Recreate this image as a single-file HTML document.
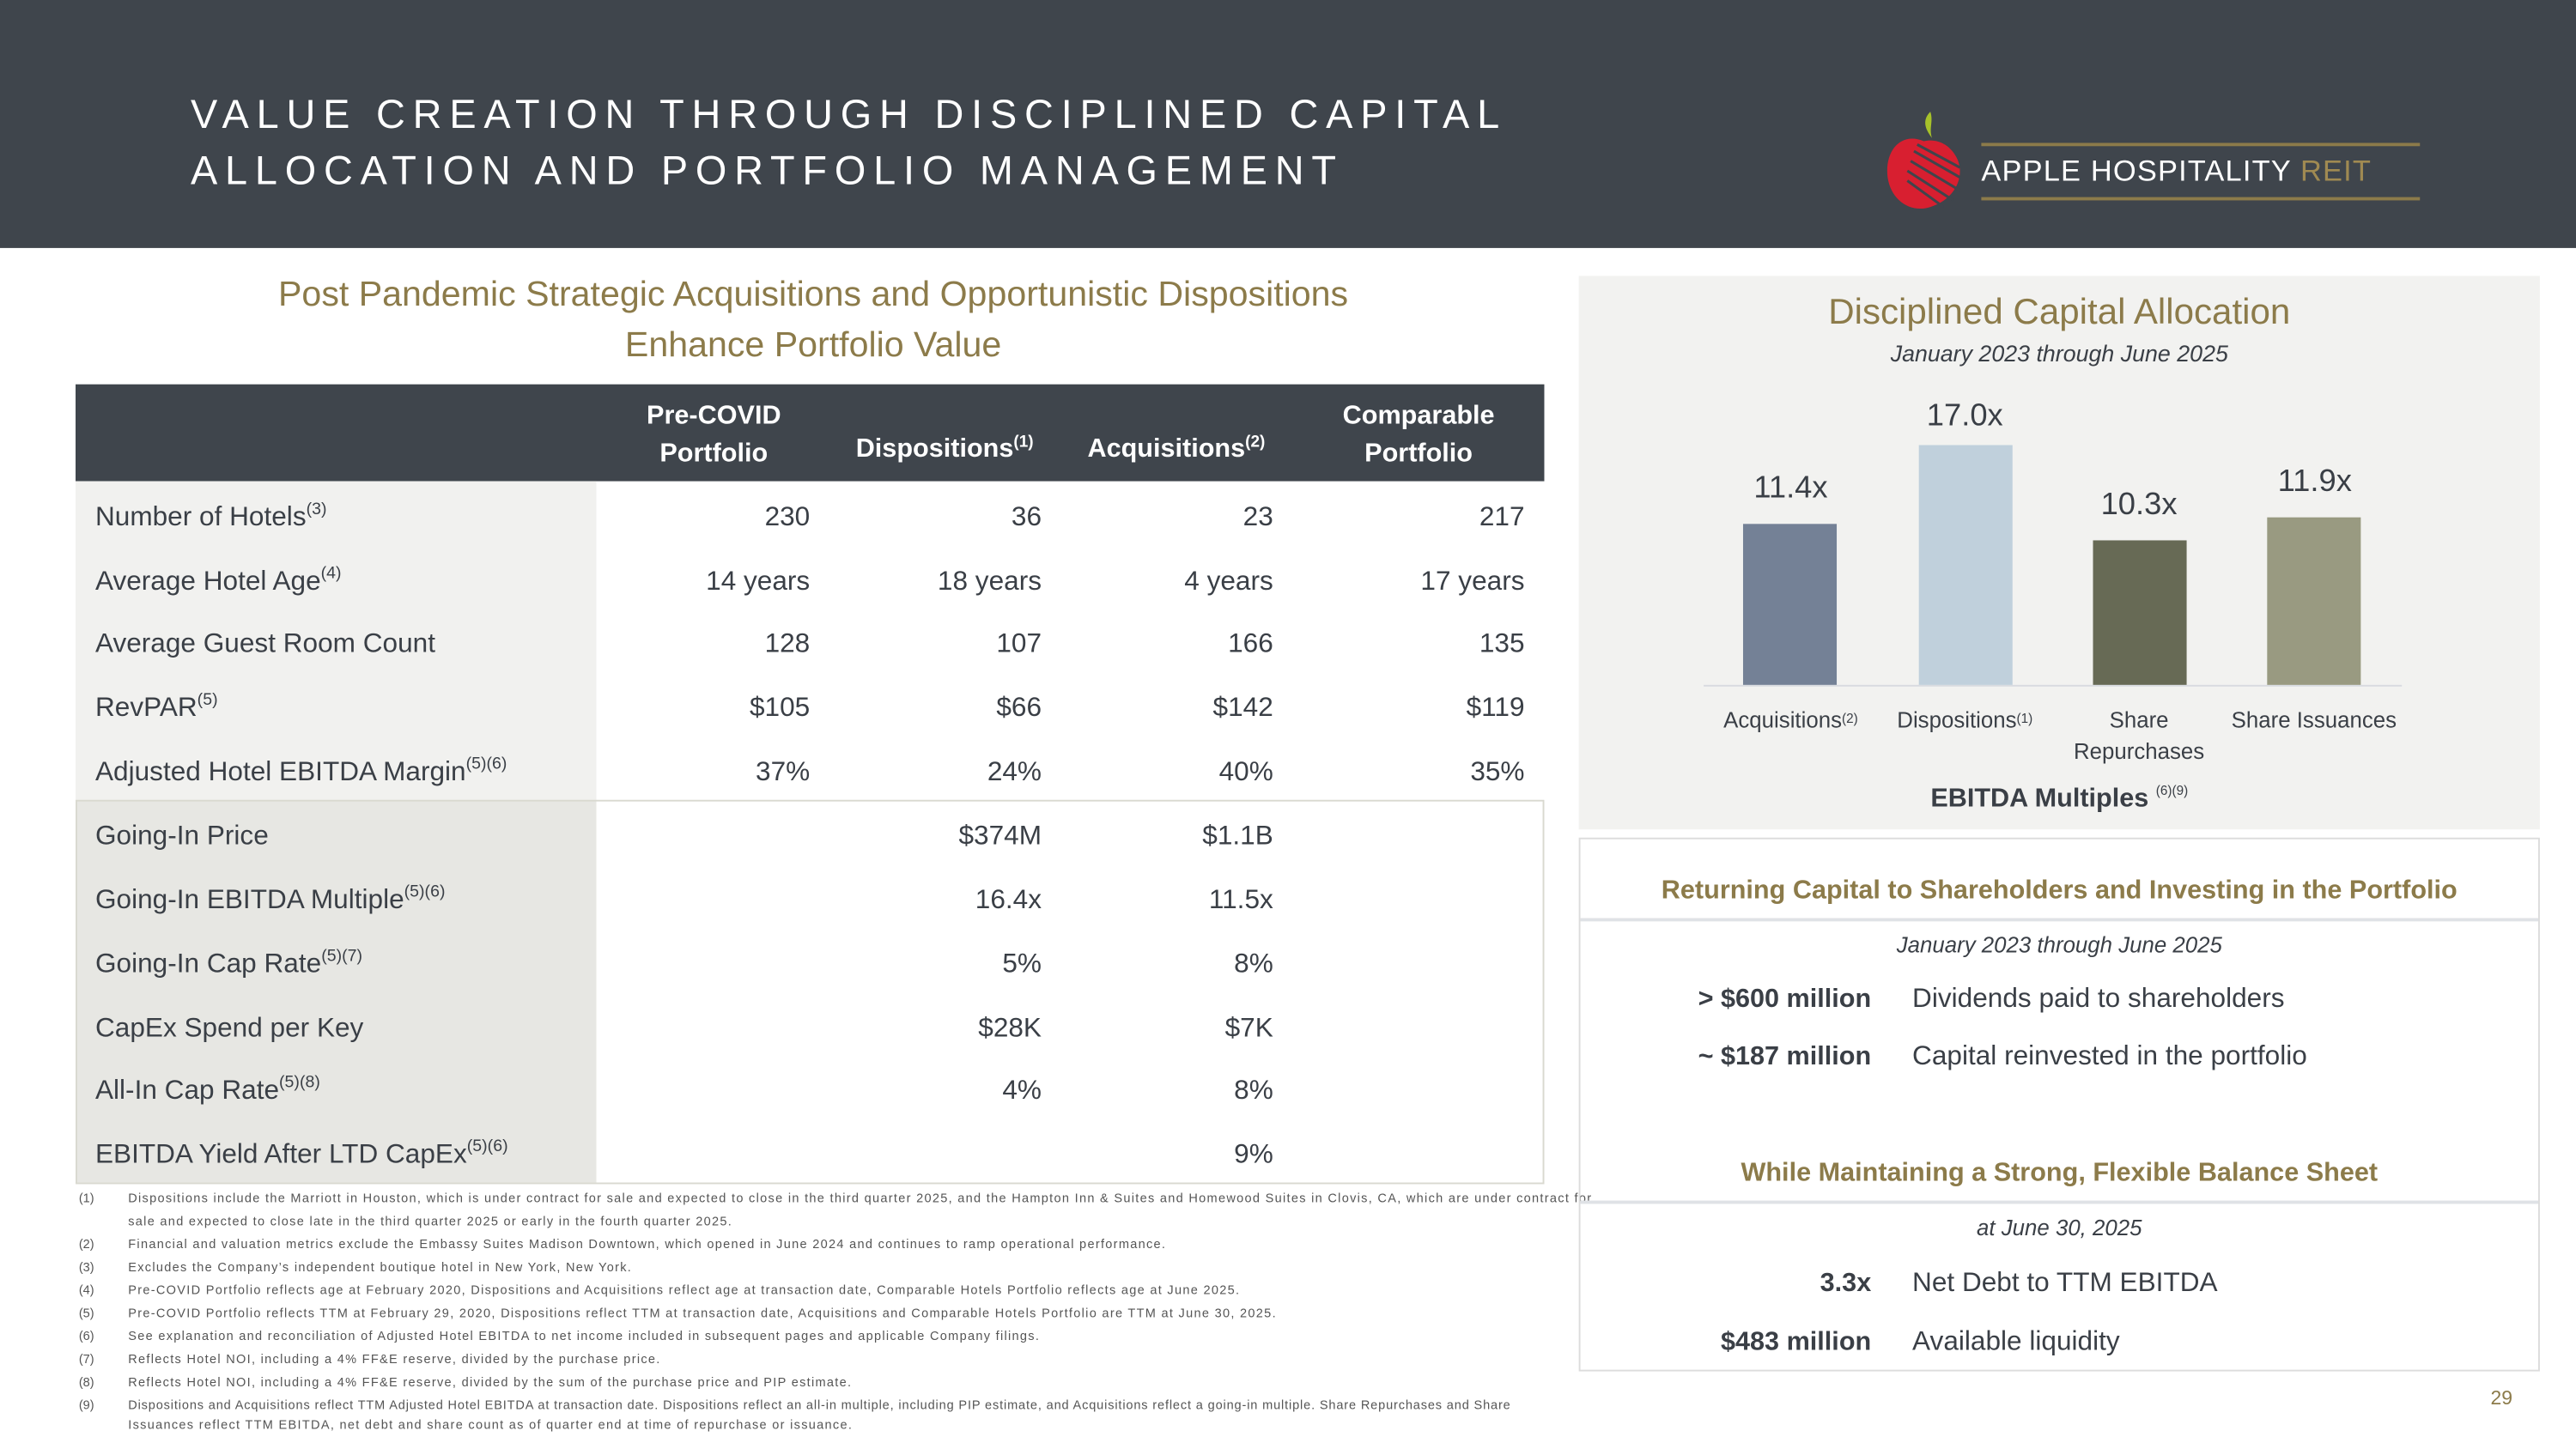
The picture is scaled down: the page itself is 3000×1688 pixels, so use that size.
<!DOCTYPE html>
<html><head><meta charset="utf-8">
<style>
html,body{margin:0;padding:0;background:#fff;}
body{width:3000px;height:1687px;overflow:hidden;position:relative;}
#s{position:absolute;left:0;top:0;width:1568px;height:882px;transform:scale(1.91327);transform-origin:0 0;font-family:"Liberation Sans",sans-serif;color:#3a3f46;}
.a{position:absolute;white-space:nowrap;}
.gold{color:#8c7b4a;}
.row{position:absolute;left:46px;width:894px;height:39px;font-size:16.5px;}
.row .l{position:absolute;left:12px;top:10px;}
.row .c{position:absolute;top:10px;text-align:right;}
sup{font-size:62%;vertical-align:top;position:relative;top:-1px;}
.fn{position:absolute;left:48px;font-size:7.6px;color:#555;line-height:14px;}
.fn b{font-weight:normal;position:absolute;left:0;}
.fn span{position:absolute;left:30px;white-space:nowrap;letter-spacing:0.68px;}
.cat{position:absolute;font-size:13.5px;text-align:center;line-height:19px;color:#3a3f46;}
.bv{position:absolute;font-size:19px;text-align:center;width:80px;}
</style></head><body><div id="s">
<div class="a" style="left:0;top:0;width:1568px;height:151px;background:#3f454c;"></div>
<div class="a" style="left:116px;top:54px;font-size:24.5px;letter-spacing:4.6px;color:#fff;line-height:34px;">VALUE CREATION THROUGH DISCIPLINED CAPITAL<br>ALLOCATION AND PORTFOLIO MANAGEMENT</div>
<svg class="a" style="left:1145px;top:64px" width="56" height="68" viewBox="0 0 56 68">
<path d="M30 4 C24 10 28 16 31 20 C29 14 32 10 30 4Z" fill="#a7c22a"/>
<path d="M26 22 C12 16 2 28 4 44 C6 58 18 66 30 62 C44 58 52 44 46 32 C42 24 34 20 26 22Z" fill="#d81f30"/>
<g stroke="#3f454c" stroke-width="1.6" fill="none"><path d="M20 28 L48 44"/><path d="M18 34 L48 52"/><path d="M16 40 L44 58"/><path d="M16 46 L38 62"/><path d="M22 24 L48 38"/></g>
</svg>
<div class="a" style="left:1206px;top:87px;width:267px;height:1.5px;background:#8c7b4a;"></div>
<div class="a" style="left:1206px;top:120px;width:267px;height:1.5px;background:#8c7b4a;"></div>
<div class="a" style="left:1206px;top:94px;font-size:18px;color:#fff;letter-spacing:0.6px;">APPLE HOSPITALITY <span style="color:#a08a52">REIT</span></div>

<div class="a gold" style="left:46px;width:898px;top:164px;text-align:center;font-size:21.5px;line-height:31px;">Post Pandemic Strategic Acquisitions and Opportunistic Dispositions<br>Enhance Portfolio Value</div>

<div class="a" style="left:46px;top:234px;width:894px;height:59px;background:#3f454c;"></div>
<div class="a" style="left:363px;width:143px;top:242px;text-align:center;color:#fff;font-weight:bold;font-size:16px;line-height:23px;">Pre-COVID<br>Portfolio</div>
<div class="a" style="left:505px;width:140px;top:265px;text-align:center;color:#fff;font-weight:bold;font-size:16px;">Dispositions<sup>(1)</sup></div>
<div class="a" style="left:645px;width:142px;top:265px;text-align:center;color:#fff;font-weight:bold;font-size:16px;">Acquisitions<sup>(2)</sup></div>
<div class="a" style="left:790px;width:147px;top:242px;text-align:center;color:#fff;font-weight:bold;font-size:16px;line-height:23px;">Comparable<br>Portfolio</div>

<div class="a" style="left:46px;top:293px;width:317px;height:194px;background:#f1f1ef;"></div>
<div class="a" style="left:46px;top:487px;width:317px;height:233px;background:#e7e7e3;"></div>
<div class="a" style="left:46px;top:487px;width:892px;height:232px;border:1px solid #d9d9d0;"></div>

<div class="row" style="top:296px"><span class="l">Number of Hotels<sup>(3)</sup></span><span class="c" style="right:447px">230</span><span class="c" style="right:306px">36</span><span class="c" style="right:165px">23</span><span class="c" style="right:12px">217</span></div>
<div class="row" style="top:335px"><span class="l">Average Hotel Age<sup>(4)</sup></span><span class="c" style="right:447px">14 years</span><span class="c" style="right:306px">18 years</span><span class="c" style="right:165px">4 years</span><span class="c" style="right:12px">17 years</span></div>
<div class="row" style="top:373px"><span class="l">Average Guest Room Count</span><span class="c" style="right:447px">128</span><span class="c" style="right:306px">107</span><span class="c" style="right:165px">166</span><span class="c" style="right:12px">135</span></div>
<div class="row" style="top:412px"><span class="l">RevPAR<sup>(5)</sup></span><span class="c" style="right:447px">$105</span><span class="c" style="right:306px">$66</span><span class="c" style="right:165px">$142</span><span class="c" style="right:12px">$119</span></div>
<div class="row" style="top:451px"><span class="l">Adjusted Hotel EBITDA Margin<sup>(5)(6)</sup></span><span class="c" style="right:447px">37%</span><span class="c" style="right:306px">24%</span><span class="c" style="right:165px">40%</span><span class="c" style="right:12px">35%</span></div>
<div class="row" style="top:490px"><span class="l">Going-In Price</span><span class="c" style="right:306px">$374M</span><span class="c" style="right:165px">$1.1B</span></div>
<div class="row" style="top:529px"><span class="l">Going-In EBITDA Multiple<sup>(5)(6)</sup></span><span class="c" style="right:306px">16.4x</span><span class="c" style="right:165px">11.5x</span></div>
<div class="row" style="top:568px"><span class="l">Going-In Cap Rate<sup>(5)(7)</sup></span><span class="c" style="right:306px">5%</span><span class="c" style="right:165px">8%</span></div>
<div class="row" style="top:607px"><span class="l">CapEx Spend per Key</span><span class="c" style="right:306px">$28K</span><span class="c" style="right:165px">$7K</span></div>
<div class="row" style="top:645px"><span class="l">All-In Cap Rate<sup>(5)(8)</sup></span><span class="c" style="right:306px">4%</span><span class="c" style="right:165px">8%</span></div>
<div class="row" style="top:684px"><span class="l">EBITDA Yield After LTD CapEx<sup>(5)(6)</sup></span><span class="c" style="right:165px">9%</span></div>

<div class="fn" style="top:723px;height:28px"><b>(1)</b><span>Dispositions include the Marriott in Houston, which is under contract for sale and expected to close in the third quarter 2025, and the Hampton Inn &amp; Suites and Homewood Suites in Clovis, CA, which are under contract for</span></div>
<div class="fn" style="top:737px"><span>sale and expected to close late in the third quarter 2025 or early in the fourth quarter 2025.</span></div>
<div class="fn" style="top:751px"><b>(2)</b><span>Financial and valuation metrics exclude the Embassy Suites Madison Downtown, which opened in June 2024 and continues to ramp operational performance.</span></div>
<div class="fn" style="top:765px"><b>(3)</b><span>Excludes the Company’s independent boutique hotel in New York, New York.</span></div>
<div class="fn" style="top:779px"><b>(4)</b><span>Pre-COVID Portfolio reflects age at February 2020, Dispositions and Acquisitions reflect age at transaction date, Comparable Hotels Portfolio reflects age at June 2025.</span></div>
<div class="fn" style="top:793px"><b>(5)</b><span>Pre-COVID Portfolio reflects TTM at February 29, 2020, Dispositions reflect TTM at transaction date, Acquisitions and Comparable Hotels Portfolio are TTM at June 30, 2025.</span></div>
<div class="fn" style="top:807px"><b>(6)</b><span>See explanation and reconciliation of Adjusted Hotel EBITDA to net income included in subsequent pages and applicable Company filings.</span></div>
<div class="fn" style="top:821px"><b>(7)</b><span>Reflects Hotel NOI, including a 4% FF&amp;E reserve, divided by the purchase price.</span></div>
<div class="fn" style="top:835px"><b>(8)</b><span>Reflects Hotel NOI, including a 4% FF&amp;E reserve, divided by the sum of the purchase price and PIP estimate.</span></div>
<div class="fn" style="top:849px"><b>(9)</b><span style="letter-spacing:0.45px">Dispositions and Acquisitions reflect TTM Adjusted Hotel EBITDA at transaction date. Dispositions reflect an all-in multiple, including PIP estimate, and Acquisitions reflect a going-in multiple. Share Repurchases and Share</span></div>
<div class="fn" style="top:861px"><span>Issuances reflect TTM EBITDA, net debt and share count as of quarter end at time of repurchase or issuance.</span></div>

<!-- right panel -->
<div class="a" style="left:961px;top:168px;width:585px;height:337px;background:#f2f2f0;"></div>
<div class="a gold" style="left:961px;width:585px;top:177px;text-align:center;font-size:22px;">Disciplined Capital Allocation</div>
<div class="a" style="left:961px;width:585px;top:207px;text-align:center;font-size:14px;font-style:italic;">January 2023 through June 2025</div>
<div class="a" style="left:1037px;top:417px;width:425px;height:1px;background:#d8dbe0;"></div>
<div class="a" style="left:1061px;top:319px;width:57px;height:98px;background:#748196;"></div>
<div class="a" style="left:1168px;top:271px;width:57px;height:146px;background:#c0d0dc;"></div>
<div class="a" style="left:1274px;top:329px;width:57px;height:88px;background:#676a55;"></div>
<div class="a" style="left:1380px;top:315px;width:57px;height:102px;background:#999a81;"></div>
<div class="bv" style="left:1050px;top:287px">11.4x</div>
<div class="bv" style="left:1156px;top:243px">17.0x</div>
<div class="bv" style="left:1262px;top:297px">10.3x</div>
<div class="bv" style="left:1369px;top:283px">11.9x</div>
<div class="cat" style="left:1037px;width:106px;top:429px">Acquisitions<sup style="font-size:8px">(2)</sup></div>
<div class="cat" style="left:1143px;width:106px;top:429px">Dispositions<sup style="font-size:8px">(1)</sup></div>
<div class="cat" style="left:1249px;width:106px;top:429px">Share<br>Repurchases</div>
<div class="cat" style="left:1355px;width:107px;top:429px">Share Issuances</div>
<div class="a" style="left:961px;width:585px;top:478px;text-align:center;font-size:16px;font-weight:bold;">EBITDA Multiples <sup style="font-size:8px;font-weight:normal">(6)(9)</sup></div>

<div class="a" style="left:961px;top:510px;width:583px;height:323px;border:1px solid #dcdcdc;"></div>
<div class="a gold" style="left:961px;width:585px;top:534px;text-align:center;font-size:16px;font-weight:bold;">Returning Capital to Shareholders and Investing in the Portfolio</div>
<div class="a" style="left:962px;top:559px;width:583px;height:2px;background:#dfe2e6;"></div>
<div class="a" style="left:961px;width:585px;top:568px;text-align:center;font-size:13.5px;font-style:italic;">January 2023 through June 2025</div>
<div class="a" style="left:961px;width:178px;top:600px;text-align:right;font-size:16px;font-weight:bold;">&gt; $600 million</div>
<div class="a" style="left:1164px;top:599px;font-size:16.5px;">Dividends paid to shareholders</div>
<div class="a" style="left:961px;width:178px;top:635px;text-align:right;font-size:16px;font-weight:bold;">~ $187 million</div>
<div class="a" style="left:1164px;top:634px;font-size:16.5px;">Capital reinvested in the portfolio</div>
<div class="a gold" style="left:961px;width:585px;top:706px;text-align:center;font-size:16px;font-weight:bold;">While Maintaining a Strong, Flexible Balance Sheet</div>
<div class="a" style="left:962px;top:731px;width:583px;height:2px;background:#dfe2e6;"></div>
<div class="a" style="left:961px;width:585px;top:740px;text-align:center;font-size:13.5px;font-style:italic;">at June 30, 2025</div>
<div class="a" style="left:961px;width:178px;top:773px;text-align:right;font-size:16px;font-weight:bold;">3.3x</div>
<div class="a" style="left:1164px;top:772px;font-size:16.5px;">Net Debt to TTM EBITDA</div>
<div class="a" style="left:961px;width:178px;top:809px;text-align:right;font-size:16px;font-weight:bold;">$483 million</div>
<div class="a" style="left:1164px;top:808px;font-size:16.5px;">Available liquidity</div>
<div class="a gold" style="left:1516px;top:844px;font-size:12px;">29</div>
</div></body></html>
